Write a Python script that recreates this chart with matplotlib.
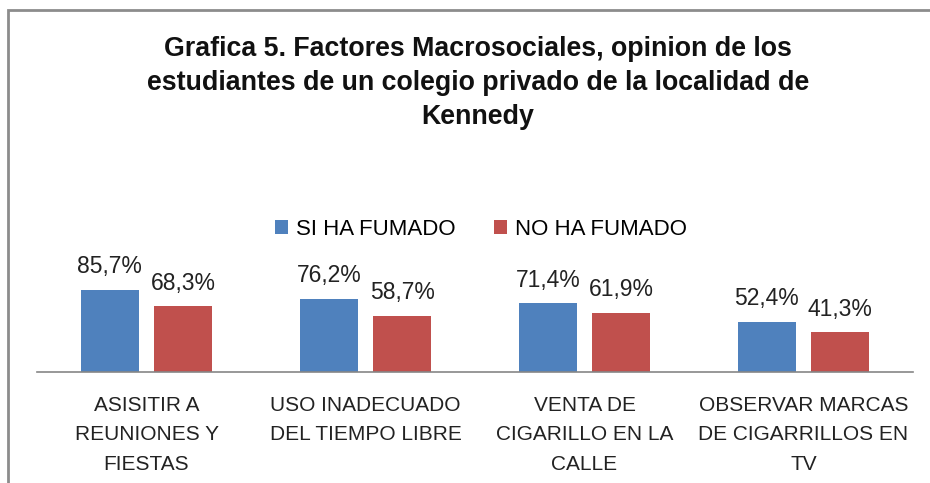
import matplotlib
matplotlib.use("Agg")
import matplotlib.pyplot as plt
from matplotlib.patches import Rectangle
import numpy as np

categorias = [
    "ASISITIR A\nREUNIONES Y\nFIESTAS",
    "USO INADECUADO\nDEL TIEMPO LIBRE",
    "VENTA DE\nCIGARILLO EN LA\nCALLE",
    "OBSERVAR MARCAS\nDE CIGARRILLOS EN\nTV",
]
si_ha_fumado = [85.7, 76.2, 71.4, 52.4]
no_ha_fumado = [68.3, 58.7, 61.9, 41.3]
series = ["SI HA FUMADO", "NO HA FUMADO"]

AZUL = "#4F81BD"
ROJO = "#C0504D"

plt.rcParams["font.family"] = ["Liberation Sans", "DejaVu Sans"]

W, H = 930, 483
fig = plt.figure(figsize=(W / 100, H / 100), dpi=100)

# marco del grafico
fig.patches.append(Rectangle((8 / W, -0.1), 1.2, 1 - 10 / H + 0.1,
                             transform=fig.transFigure, fill=False,
                             edgecolor="#8C8C8C", linewidth=2))

ax = fig.add_axes([37 / W, 1 - 372 / H, (913 - 37) / W, 96 / H])
x = np.arange(len(categorias))
ancho = 0.265
off = 0.167
b1 = ax.bar(x - off, si_ha_fumado, ancho, color=AZUL, label=series[0])
b2 = ax.bar(x + off, no_ha_fumado, ancho, color=ROJO, label=series[1])

for barras in (b1, b2):
    for b in barras:
        v = b.get_height()
        ax.annotate(f"{v:.1f}%".replace(".", ","),
                    (b.get_x() + b.get_width() / 2, v),
                    xytext=(0, 8.5), textcoords="offset points",
                    ha="center", va="bottom", fontsize=16.5, color="#222222")

ax.set_xlim(-0.5, 3.5)
ax.set_ylim(0, 100)
for s in ("top", "right", "left"):
    ax.spines[s].set_visible(False)
ax.spines["bottom"].set_color("#868686")
ax.spines["bottom"].set_linewidth(1.2)
ax.set_yticks([])
ax.set_xticks(x)
ax.set_xticklabels(categorias, fontsize=15, color="#222222", linespacing=1.7)
ax.tick_params(axis="x", length=0, pad=17)

fig.legend(handles=[b1, b2], labels=series, loc="center",
           bbox_to_anchor=(481 / W, 1 - 229 / H), ncol=2, frameon=False,
           fontsize=16, handlelength=0.6, handleheight=0.6,
           handletextpad=0.35, columnspacing=1.73)

fig.text(478 / W, 1 - 83 / H,
         "Grafica 5. Factores Macrosociales, opinion de los\n"
         "estudiantes de un colegio privado de la localidad de\nKennedy",
         ha="center", va="center", fontsize=19.3, fontweight="bold",
         linespacing=1.42, color="#111111")

fig.savefig("out.png", dpi=100)
